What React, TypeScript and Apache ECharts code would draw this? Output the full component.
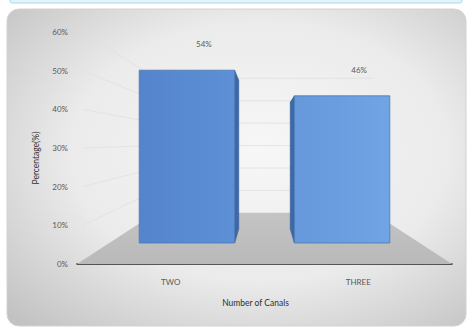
import React, { useEffect, useRef } from "react";
import * as echarts from "echarts";

const categories = ["TWO", "THREE"];
const values = [54, 46];
const gridValues = [0, 10, 20, 30, 40, 50, 60];

const Y_MIN = 0;
const Y_MAX = 60;
const Y_STEP = 10;
const EYE = 31.5; // eye level (in front-plane value units)
const S_BAR_FRONT = 0.8276;
const S_BAR_BACK = 0.713;
const S_FLOOR_BACK = 0.58;
const BAR_RATIO = 0.615;

function proj(p: number[], s: number, vp: number[]) {
  return [vp[0] + (p[0] - vp[0]) * s, vp[1] + (p[1] - vp[1]) * s];
}

export default function App() {
  const ref = useRef<HTMLDivElement>(null);
  useEffect(() => {
    if (!ref.current) return;
    const chart = echarts.init(ref.current, null, { renderer: "svg" });
    const font = "Lato, 'Liberation Sans', sans-serif";

    const floorRender = (params: any, api: any) => {
      const cs = params.coordSys;
      const v = api.value(1);
      const vp = [cs.x + cs.width / 2, api.coord([0, EYE])[1]];
      const base = api.coord([0, 0])[1];
      if (v === 0) {
        const fl = [cs.x, base];
        const fr = [cs.x + cs.width, base];
        const bl = proj(fl, S_FLOOR_BACK, vp);
        const br = proj(fr, S_FLOOR_BACK, vp);
        return {
          type: "polygon",
          shape: { points: [fl, fr, br, bl] },
          style: {
            fill: new echarts.graphic.LinearGradient(0, 0, 0, 1, [
              { offset: 0, color: "#c4c4c4" },
              { offset: 1, color: "#b9b9b9" },
            ]),
          },
        };
      }
      const y = api.coord([0, v])[1];
      const fl = [cs.x + 6, y];
      const bl = proj([cs.x, y], S_FLOOR_BACK, vp);
      const br = proj([cs.x + cs.width, y], S_FLOOR_BACK, vp);
      return {
        type: "polyline",
        shape: { points: [fl, bl, br] },
        style: { stroke: "#e0e0e0", lineWidth: 0.8, fill: "none" },
      };
    };

    const barRender = (params: any, api: any) => {
      const cs = params.coordSys;
      const idx = api.value(0);
      const v = api.value(1);
      const vp = [cs.x + cs.width / 2, api.coord([0, EYE])[1]];
      const top = api.coord([idx, v]);
      const bottom = api.coord([idx, 0]);
      const half = (api.size([1, 0])[0] * BAR_RATIO) / 2;
      const cx = top[0];
      const pTL = [cx - half, top[1]];
      const pTR = [cx + half, top[1]];
      const pBL = [cx - half, bottom[1]];
      const pBR = [cx + half, bottom[1]];
      const fTL = proj(pTL, S_BAR_FRONT, vp);
      const fTR = proj(pTR, S_BAR_FRONT, vp);
      const fBL = proj(pBL, S_BAR_FRONT, vp);
      const fBR = proj(pBR, S_BAR_FRONT, vp);
      const leftSide = cx < vp[0];
      let side;
      if (leftSide) {
        side = [fTR, proj(pTR, S_BAR_BACK, vp), proj(pBR, S_BAR_BACK, vp), fBR];
      } else {
        side = [fTL, proj(pTL, S_BAR_BACK, vp), proj(pBL, S_BAR_BACK, vp), fBL];
      }
      const frontColors = leftSide
        ? ["#5485cc", "#5d90d6"]
        : ["#6698dc", "#70a4e4"];
      const cTop = proj([cx, top[1]], S_BAR_FRONT, vp);
      return {
        type: "group",
        children: [
          {
            type: "polygon",
            shape: { points: side },
            style: { fill: "#3d69a6", stroke: "#36609b", lineWidth: 0.6 },
          },
          {
            type: "polygon",
            shape: { points: [fTL, fTR, fBR, fBL] },
            style: {
              fill: new echarts.graphic.LinearGradient(0, 0, 1, 0, [
                { offset: 0, color: frontColors[0] },
                { offset: 1, color: frontColors[1] },
              ]),
              stroke: "#4a77b6",
              lineWidth: 0.8,
            },
          },
          {
            type: "text",
            x: cTop[0] + 17,
            y: cTop[1] - 26,
            style: {
              text: v + "%",
              fill: "#595959",
              font: "8px " + font,
              align: "center",
              verticalAlign: "middle",
            },
          },
        ],
      };
    };

    chart.setOption({
      animation: false,
      backgroundColor: "#ffffff",
      graphic: [
        {
          type: "rect",
          z: -1,
          silent: true,
          shape: { x: 10, y: -4, width: 452, height: 7, r: 2 },
          style: { fill: "#e2f4f9", stroke: "#a9dbe9", lineWidth: 1 },
        },
        {
          type: "rect",
          z: -1,
          silent: true,
          shape: { x: 7, y: 9, width: 459, height: 317, r: 12 },
          style: {
            fill: new echarts.graphic.RadialGradient(0.55, 0.45, 0.75, [
              { offset: 0, color: "#f7f7f7" },
              { offset: 0.55, color: "#ebebeb" },
              { offset: 1, color: "#c2c2c2" },
            ]),
            stroke: "#d2d2d2",
            lineWidth: 1,
          },
        },
      ],
      grid: { left: 77, right: 17, top: 32, bottom: 65 },
      xAxis: {
        type: "category",
        data: categories,
        axisLine: { lineStyle: { color: "#262626", width: 1.5 } },
        axisTick: { show: false },
        axisLabel: { fontSize: 8, color: "#595959", margin: 14, fontFamily: font },
        name: "Number of Canals",
        nameLocation: "middle",
        nameGap: 34,
        nameTextStyle: { fontSize: 8.5, color: "#303030", fontFamily: font, padding: [0, 18, 0, 0] },
      },
      yAxis: {
        type: "value",
        min: Y_MIN,
        max: Y_MAX,
        interval: Y_STEP,
        axisLine: { show: false },
        axisTick: { show: false },
        splitLine: { show: false },
        axisLabel: {
          formatter: "{value}%",
          fontSize: 8,
          color: "#595959",
          margin: 9,
          fontFamily: font,
        },
        name: "Percentage(%)",
        nameLocation: "middle",
        nameGap: 37,
        nameRotate: 90,
        nameTextStyle: { fontSize: 8.5, color: "#303030", fontFamily: font, padding: [0, 20, 0, 0] },
      },
      series: [
        {
          type: "custom",
          z: 1,
          silent: true,
          renderItem: floorRender,
          data: gridValues.map((v) => [0, v]),
          clip: false,
        },
        {
          type: "custom",
          z: 3,
          renderItem: barRender,
          data: categories.map((c, i) => [i, values[i]]),
          clip: false,
        },
      ],
    });
    return () => chart.dispose();
  }, []);
  return (
    <div
      ref={ref}
      style={{ position: "fixed", left: 0, top: 0, width: 469, height: 329 }}
    />
  );
}
